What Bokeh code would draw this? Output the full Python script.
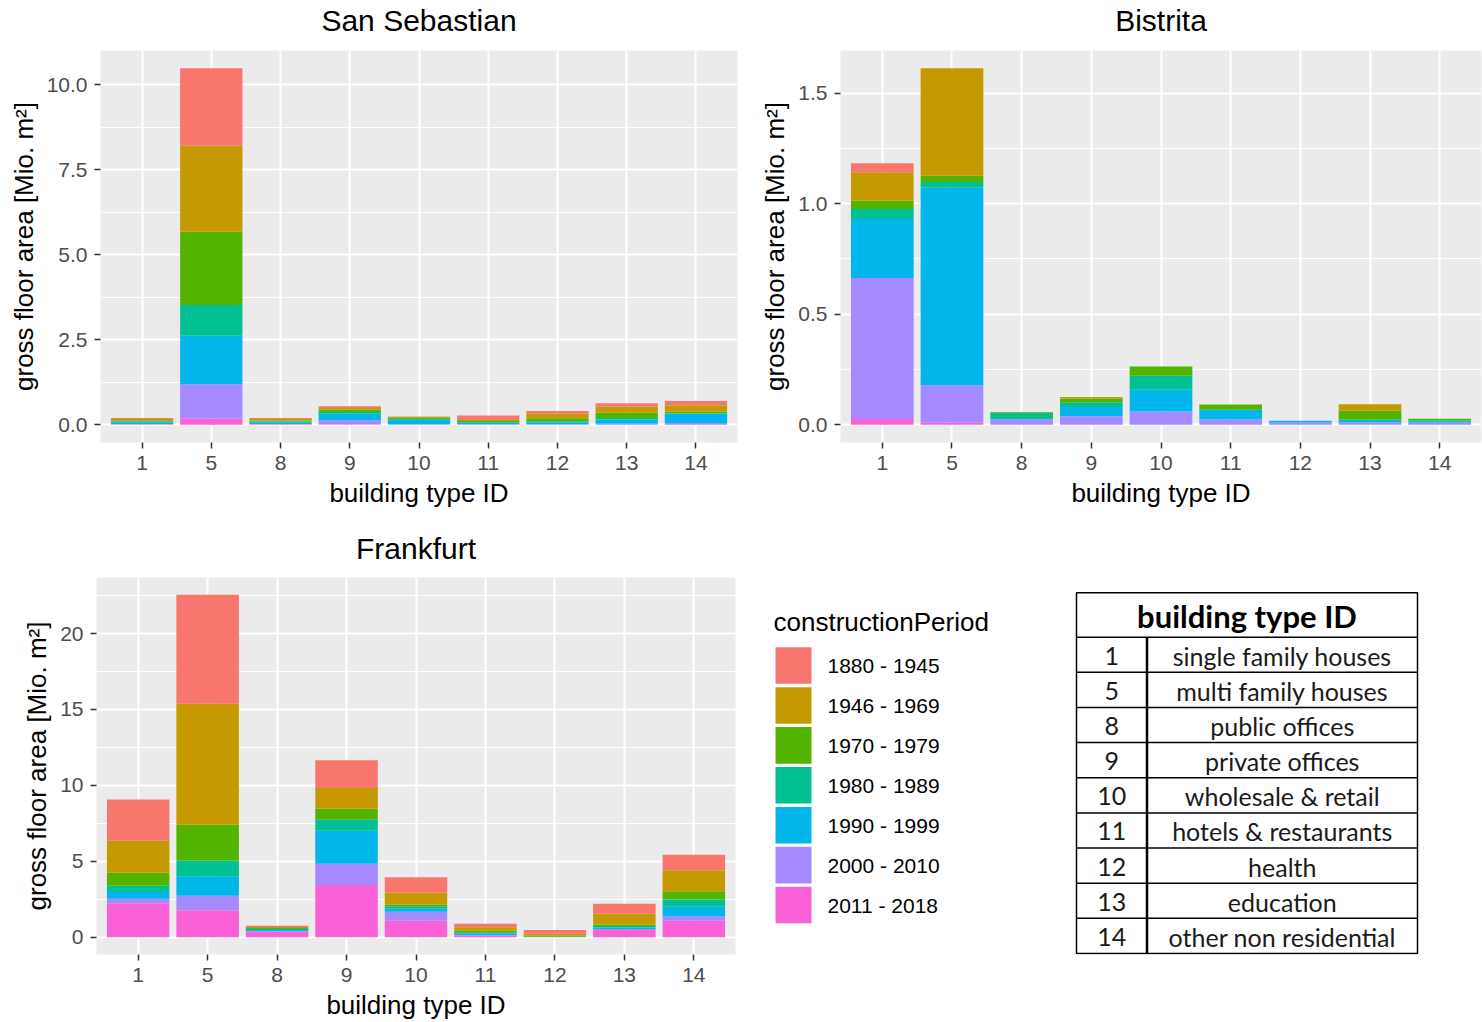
from bokeh.plotting import figure
from bokeh.models import FactorRange, Range1d, FixedTicker, NumeralTickFormatter, ColumnDataSource, Title
from bokeh.layouts import row, column
from bokeh.embed import file_html
from bokeh.resources import INLINE
from bokeh.core.properties import value

FONT = "Liberation Sans"
TFONT = "Lato"

# ---------------- data ----------------
types = ["1", "5", "8", "9", "10", "11", "12", "13", "14"]
type_names = ["single family houses", "multi family houses", "public offices",
              "private offices", "wholesale & retail", "hotels & restaurants",
              "health", "education", "other non residential"]
periods = ["1880 - 1945", "1946 - 1969", "1970 - 1979", "1980 - 1989",
           "1990 - 1999", "2000 - 2010", "2011 - 2018"]
colors = ["#F8766D", "#C49A00", "#53B400", "#00C094", "#00B6EB", "#A58AFF", "#FB61D7"]

# gross floor area [Mio. m2] per building type (order of `types`)
san_sebastian = {
    "1880 - 1945": [0.03, 2.28, 0.03, 0.05, 0.01, 0.13, 0.08, 0.10, 0.13],
    "1946 - 1969": [0.04, 2.53, 0.05, 0.04, 0.02, 0.03, 0.13, 0.17, 0.18],
    "1970 - 1979": [0.04, 2.16, 0.03, 0.08, 0.05, 0.04, 0.09, 0.16, 0.05],
    "1980 - 1989": [0.03, 0.90, 0.03, 0.05, 0.02, 0.02, 0.03, 0.05, 0.02],
    "1990 - 1999": [0.04, 1.43, 0.04, 0.19, 0.13, 0.04, 0.06, 0.12, 0.27],
    "2000 - 2010": [0.01, 1.01, 0.01, 0.12, 0.01, 0.01, 0.01, 0.03, 0.05],
    "2011 - 2018": [0.01, 0.18, 0.01, 0.01, 0.00, 0.00, 0.00, 0.00, 0.00],
}
bistrita = {
    "1880 - 1945": [0.040, 0.000, 0.000, 0.000, 0.000, 0.000, 0.000, 0.000, 0.000],
    "1946 - 1969": [0.129, 0.486, 0.000, 0.006, 0.000, 0.000, 0.000, 0.029, 0.000],
    "1970 - 1979": [0.038, 0.029, 0.003, 0.018, 0.042, 0.023, 0.000, 0.042, 0.007],
    "1980 - 1989": [0.045, 0.024, 0.028, 0.021, 0.063, 0.000, 0.000, 0.000, 0.007],
    "1990 - 1999": [0.267, 0.895, 0.000, 0.042, 0.098, 0.045, 0.008, 0.012, 0.004],
    "2000 - 2010": [0.638, 0.169, 0.025, 0.038, 0.060, 0.023, 0.010, 0.010, 0.009],
    "2011 - 2018": [0.026, 0.010, 0.000, 0.000, 0.000, 0.000, 0.000, 0.000, 0.000],
}
frankfurt = {
    "1880 - 1945": [2.71, 7.19, 0.07, 1.82, 1.00, 0.22, 0.24, 0.67, 1.02],
    "1946 - 1969": [2.10, 7.96, 0.07, 1.37, 0.78, 0.24, 0.13, 0.72, 1.37],
    "1970 - 1979": [0.87, 2.35, 0.07, 0.72, 0.15, 0.09, 0.07, 0.09, 0.54],
    "1980 - 1989": [0.41, 1.04, 0.07, 0.73, 0.11, 0.10, 0.01, 0.09, 0.48],
    "1990 - 1999": [0.44, 1.28, 0.08, 2.18, 0.22, 0.09, 0.01, 0.11, 0.65],
    "2000 - 2010": [0.30, 0.96, 0.03, 1.39, 0.60, 0.04, 0.01, 0.00, 0.28],
    "2011 - 2018": [2.24, 1.78, 0.37, 3.45, 1.09, 0.11, 0.01, 0.54, 1.09],
}
ss_ticks = [0, 2.5, 5, 7.5, 10]
bi_ticks = [0, 0.5, 1.0, 1.5]
ff_ticks = [0, 5, 10, 15, 20]

Y_LABEL = "gross floor area [Mio. m²]"
X_LABEL = "building type ID"
LEGEND_TITLE = "constructionPeriod"
TABLE_TITLE = "building type ID"


def panel(title, data, ticks, fmt, width, height, bl, br, bt, bb, gap):
    src = ColumnDataSource(dict(type=types, **data))
    totals = [sum(data[p][j] for p in periods) for j in range(len(types))]
    ymax = max(totals)
    f = figure(x_range=FactorRange(factors=types, range_padding=0.1,
                                   range_padding_units="absolute"),
               y_range=Range1d(-0.05 * ymax, 1.05 * ymax),
               width=width, height=height, output_backend="svg",
               toolbar_location=None, min_border_left=bl, min_border_right=br,
               min_border_top=bt, min_border_bottom=bb)
    f.vbar_stack(periods[::-1], x="type", width=0.9, source=src,
                 fill_color=colors[::-1], line_color=None)
    f.background_fill_color = "#EBEBEB"
    f.border_fill_color = "white"
    f.outline_line_color = None

    # spacer between frame and title, then the title itself
    f.title.text = ""
    f.add_layout(Title(text=" ", text_font_size=gap, standoff=0), "above")
    f.add_layout(Title(text=title, align="center", text_font=FONT, text_font_size="30px",
                       text_font_style="normal", text_color="black", standoff=0), "above")

    step = ticks[1] - ticks[0]
    f.yaxis.ticker = FixedTicker(ticks=ticks, minor_ticks=[t + step / 2 for t in ticks])
    f.yaxis.formatter = NumeralTickFormatter(format=fmt)

    for ax in (f.xaxis[0], f.yaxis[0]):
        ax.axis_line_color = None
        ax.major_tick_in = 0
        ax.major_tick_out = 6
        ax.minor_tick_in = 0
        ax.minor_tick_out = 0
        ax.major_tick_line_color = "#333333"
        ax.major_tick_line_width = 1.5
        ax.major_label_text_font = FONT
        ax.major_label_text_font_size = "21px"
        ax.major_label_text_color = "#4D4D4D"
        ax.major_label_standoff = 7
        ax.axis_label_text_font = FONT
        ax.axis_label_text_font_size = "26px"
        ax.axis_label_text_font_style = "normal"
        ax.axis_label_text_color = "black"
        ax.axis_label_standoff = 5
    f.xaxis.axis_label = X_LABEL
    f.yaxis.axis_label = Y_LABEL

    f.xgrid.grid_line_color = "white"
    f.xgrid.grid_line_width = 2
    f.ygrid.grid_line_color = "white"
    f.ygrid.grid_line_width = 2
    f.ygrid.minor_grid_line_color = "white"
    f.ygrid.minor_grid_line_width = 1
    return f


fig_ss = panel("San Sebastian", san_sebastian, ss_ticks, "0.0", 745, 510, 100, 8, 50, 68, "11.5px")
fig_bi = panel("Bistrita", bistrita, bi_ticks, "0.0", 737, 510, 95, 1, 50, 68, "11.5px")
fig_ff = panel("Frankfurt", frankfurt, ff_ticks, "0", 745, 512, 96, 10, 67, 64, "10px")

# ---------------- legend + table panel (data coordinates = page pixels) ----------------
# its frame is aligned with the Frankfurt frame (same borders)
LX0, LX1, LY0, LY1 = 745, 1482, 577, 958
fig_lt = figure(width=737, height=512, x_range=Range1d(LX0, LX1), y_range=Range1d(LY1, LY0),
                output_backend="svg", toolbar_location=None,
                min_border_left=0, min_border_right=0, min_border_top=67, min_border_bottom=64,
                x_axis_location=None, y_axis_location=None)
fig_lt.grid.visible = False
fig_lt.outline_line_color = None
fig_lt.background_fill_color = "white"
fig_lt.border_fill_color = "white"

# legend
LEG_X, LEG_TITLE_Y, KEY_Y0, KEY_STEP, KEY_W, KEY_H = 773, 622, 666, 40.33, 36, 37
fig_lt.text(x=[LEG_X], y=[LEG_TITLE_Y], text=[LEGEND_TITLE], text_font=value(FONT),
            text_font_size=value("26px"), text_baseline="middle", text_align="left",
            text_color="black")
key_y = [KEY_Y0 + i * KEY_STEP for i in range(len(periods))]
fig_lt.rect(x=[LEG_X + 2 + KEY_W / 2] * len(periods), y=key_y, width=KEY_W, height=KEY_H,
            fill_color=colors, line_color=None)
fig_lt.text(x=[LEG_X + 54] * len(periods), y=key_y, text=periods, text_font=value(FONT),
            text_font_size=value("21px"), text_baseline="middle", text_align="left",
            text_color="black")

# table
TL, TR, TT, THB, TB, TDIV = 1076, 1417, 592.5, 637.3, 957, 1146.5
row_h = (TB - THB) / len(types)
fig_lt.rect(x=[(TL + TR) / 2], y=[(TT + TB) / 2], width=TR - TL, height=TB - TT,
            fill_color=None, line_color="black", line_width=1.5)
line_ys = [THB + i * row_h for i in range(len(types))]
fig_lt.segment(x0=[TL] * len(line_ys), y0=line_ys, x1=[TR] * len(line_ys), y1=line_ys,
               line_color="black", line_width=1.5)
fig_lt.segment(x0=[TDIV], y0=[THB], x1=[TDIV], y1=[TB], line_color="black", line_width=2.5)
fig_lt.text(x=[(TL + TR) / 2], y=[(TT + THB) / 2 + 1], text=[TABLE_TITLE],
            text_font=value(TFONT), text_font_size=value("31px"), text_font_style="bold",
            text_baseline="middle", text_align="center", text_color="black")
row_cy = [THB + (i + 0.5) * row_h + 1 for i in range(len(types))]
fig_lt.text(x=[(TL + TDIV) / 2] * len(types), y=row_cy, text=types, text_font=value(TFONT),
            text_font_size=value("25px"), text_baseline="middle", text_align="center",
            text_color="#1a1a1a")
fig_lt.text(x=[(TDIV + TR) / 2] * len(types), y=row_cy, text=type_names,
            text_font=value(TFONT), text_font_size=value("25px"), text_baseline="middle",
            text_align="center", text_color="#1a1a1a")

layout = column(row(fig_ss, fig_bi), row(fig_ff, fig_lt))

with open("out.html", "w") as fh:
    fh.write(file_html(layout, INLINE))
